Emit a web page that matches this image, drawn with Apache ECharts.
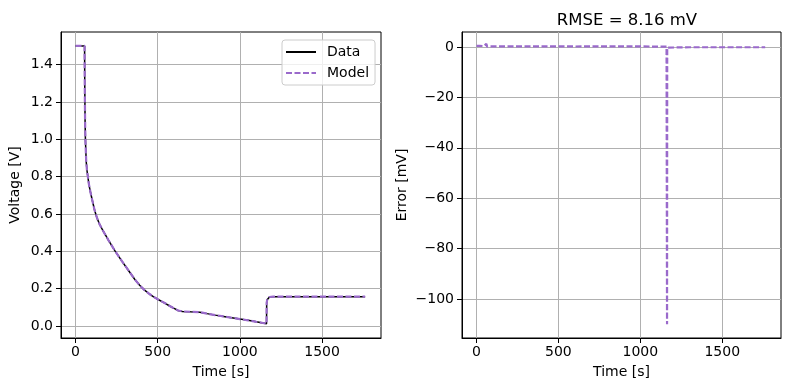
<!DOCTYPE html>
<html><head><meta charset="utf-8">
<script src="https://cdn.jsdelivr.net/npm/echarts@6/dist/echarts.min.js"></script>
<style>html,body{margin:0;padding:0;background:#fff}#c{width:790px;height:390px}</style>
</head><body><div id="c"></div>
<script>
const timeTicks = [0, 500, 1000, 1500];
const voltTicks = [0, 0.2, 0.4, 0.6, 0.8, 1.0, 1.2, 1.4];
const errTicks = [-100, -80, -60, -40, -20, 0];

const dataTime = [0,20,40,55,56,58,60,62,65,70,75,81,90,100,116,130,146,167,200,238,280,320,360,390,420,450,475,500,540,573,600,624,650,700,756,800,850,900,950,1000,1050,1100,1140,1162,1163,1166,1172,1180,1190,1202,1250,1300,1400,1500,1600,1700,1762];
const dataVolt = [1.5,1.5,1.5,1.5,1.30,1.10,1.00,0.95,0.88,0.83,0.80,0.76,0.72,0.68,0.62,0.58,0.545,0.51,0.46,0.405,0.35,0.30,0.25,0.218,0.192,0.171,0.156,0.143,0.124,0.107,0.094,0.083,0.078,0.076,0.074,0.066,0.058,0.051,0.044,0.037,0.030,0.022,0.016,0.012,0.125,0.140,0.150,0.155,0.157,0.157,0.157,0.157,0.157,0.157,0.157,0.157,0.157];
const modelVolt = [1.5,1.5,1.5,1.5,1.30,1.10,1.00,0.95,0.88,0.83,0.80,0.76,0.72,0.68,0.62,0.58,0.545,0.51,0.46,0.405,0.35,0.30,0.25,0.218,0.192,0.171,0.156,0.143,0.124,0.107,0.094,0.083,0.078,0.076,0.074,0.066,0.058,0.051,0.044,0.037,0.030,0.022,0.016,0.012,0.125,0.140,0.150,0.155,0.157,0.157,0.157,0.157,0.157,0.157,0.157,0.157,0.157];

const errTime = [0,20,45,55,60,65,80,200,400,600,800,1000,1100,1160,1162,1163,1164,1166,1300,1500,1762];
const errMv = [0.5,0.5,0.4,0.6,1.3,0.2,0.3,0.3,0.3,0.25,0.3,0.3,0.2,0.2,0.2,-110,-0.2,-0.1,-0.05,-0.05,-0.05];

const FONT = 'DejaVu Sans';
const FS = 14;
const PURPLE = '#9a6acb';
const pairs = (xs, ys) => xs.map((x, i) => [x, ys[i]]);
const minus = s => String(s).replace('-', '\u2212');

function xAxis(gridIndex) {
  return {
    gridIndex, type: 'value', min: -88.5, max: 1858.5,
    name: 'Time [s]', nameLocation: 'middle', nameGap: 27,
    nameTextStyle: {fontFamily: FONT, fontSize: FS, color: '#000'},
    axisLine: {show: true, onZero: false, lineStyle: {color: '#000', width: 1}},
    axisTick: {show: true, length: 5, lineStyle: {color: '#000'}, customValues: timeTicks},
    axisLabel: {color: '#000', fontFamily: FONT, fontSize: FS, margin: 7, customValues: timeTicks,
      formatter: v => String(Math.round(v))},
    splitLine: {show: true, lineStyle: {color: '#b0b0b0', width: 1}}
  };
}

const option = {
  animation: false,
  title: {text: 'RMSE = 8.16 mV', left: 622, top: 7, textAlign: 'center',
    textStyle: {fontFamily: FONT, fontSize: 16.5, fontWeight: 'normal', color: '#000'}},
  legend: {
    data: ['Data', 'Model'], orient: 'vertical', left: 282, top: 40,
    itemWidth: 30, itemHeight: 14, itemGap: 7,
    padding: [5, 6, 5, 3],
    itemStyle: {opacity: 0},
    backgroundColor: 'rgba(255,255,255,0.8)', borderColor: '#cccccc', borderWidth: 1, borderRadius: 3,
    textStyle: {fontFamily: FONT, fontSize: FS, color: '#000', padding: [0, 0, 0, 6]}
  },
  grid: [
    {left: 61, top: 32, width: 320, height: 306, show: true, borderColor: '#000', borderWidth: 1, backgroundColor: 'transparent'},
    {left: 462, top: 32, width: 319, height: 306, show: true, borderColor: '#000', borderWidth: 1, backgroundColor: 'transparent'}
  ],
  xAxis: [xAxis(0), xAxis(1)],
  yAxis: [
    {gridIndex: 0, type: 'value', min: -0.0645, max: 1.5745,
      name: 'Voltage [V]', nameLocation: 'middle', nameGap: 39,
      nameTextStyle: {fontFamily: FONT, fontSize: FS, color: '#000'},
      axisLine: {show: true, onZero: false, lineStyle: {color: '#000', width: 1}},
      axisTick: {show: true, length: 5, lineStyle: {color: '#000'}, customValues: voltTicks},
      axisLabel: {color: '#000', fontFamily: FONT, fontSize: FS, margin: 8, customValues: voltTicks,
        formatter: v => v.toFixed(1)},
      splitLine: {show: true, lineStyle: {color: '#b0b0b0', width: 1}}},
    {gridIndex: 1, type: 'value', min: -115.5, max: 6,
      name: 'Error [mV]', nameLocation: 'middle', nameGap: 53,
      nameTextStyle: {fontFamily: FONT, fontSize: FS, color: '#000'},
      axisLine: {show: true, onZero: false, lineStyle: {color: '#000', width: 1}},
      axisTick: {show: true, length: 5, lineStyle: {color: '#000'}, customValues: errTicks},
      axisLabel: {color: '#000', fontFamily: FONT, fontSize: FS, margin: 8, customValues: errTicks,
        formatter: v => minus(Math.round(v))},
      splitLine: {show: true, lineStyle: {color: '#b0b0b0', width: 1}}}
  ],
  series: [
    {name: 'Data', type: 'line', xAxisIndex: 0, yAxisIndex: 0, symbol: 'none',
      data: pairs(dataTime, dataVolt), lineStyle: {color: '#000', width: 1.5}, itemStyle: {color: '#000'}},
    {name: 'Model', type: 'line', xAxisIndex: 0, yAxisIndex: 0, symbol: 'none',
      data: pairs(dataTime, modelVolt), lineStyle: {color: PURPLE, width: 2.2, type: [6, 2.5]}, itemStyle: {color: PURPLE}},
    {name: 'Error', type: 'line', xAxisIndex: 1, yAxisIndex: 1, symbol: 'none',
      data: pairs(errTime, errMv), lineStyle: {color: PURPLE, width: 2.2, type: [6, 2.5]}, itemStyle: {color: PURPLE}}
  ]
};
echarts.init(document.getElementById('c'), null, {renderer: 'canvas'}).setOption(option);
</script></body></html>
